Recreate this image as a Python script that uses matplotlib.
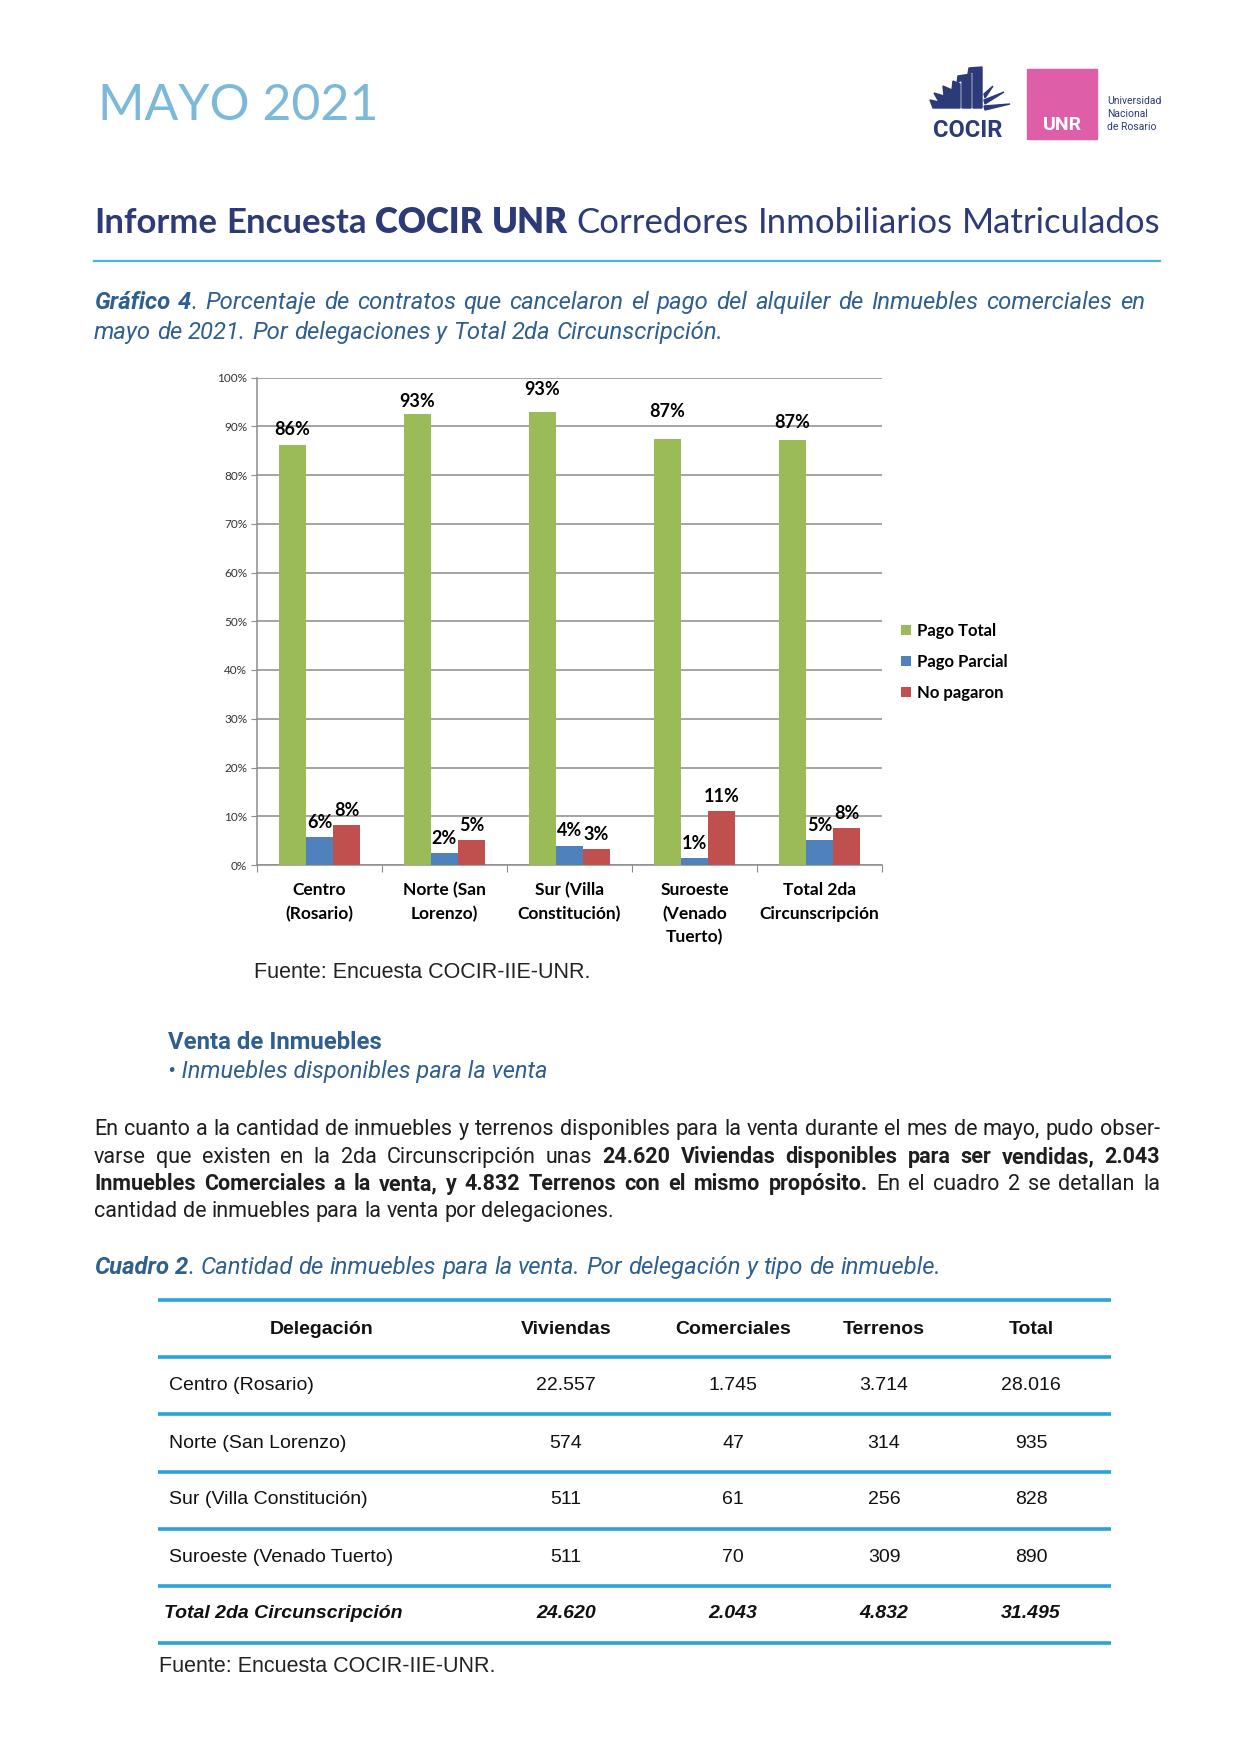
import matplotlib
matplotlib.use("Agg")
import matplotlib.pyplot as plt
from matplotlib.patches import Rectangle, Polygon
from matplotlib import font_manager as fm
import numpy as np

W, H = 1241, 1754

# --- datos del gráfico 4 ---
categories = ["Centro\n(Rosario)", "Norte (San\nLorenzo)", "Sur (Villa\nConstitución)",
              "Suroeste\n(Venado\nTuerto)", "Total 2da\nCircunscripción"]
pago_total = [86.1, 92.6, 93.0, 87.4, 87.2]
pago_parcial = [5.8, 2.4, 4.0, 1.4, 5.2]
no_pagaron = [8.2, 5.1, 3.2, 11.1, 7.6]
series_names = ["Pago Total", "Pago Parcial", "No pagaron"]
series_colors = ["#9bbb59", "#4f81bd", "#c0504d"]
y_ticks = [0, 10, 20, 30, 40, 50, 60, 70, 80, 90, 100]

# --- datos del cuadro 2 ---
table_header = ["Delegación", "Viviendas", "Comerciales", "Terrenos", "Total"]
delegaciones = ["Centro (Rosario)", "Norte (San Lorenzo)", "Sur (Villa Constitución)",
                "Suroeste (Venado Tuerto)", "Total 2da Circunscripción"]
viviendas = ["22.557", "574", "511", "511", "24.620"]
comerciales = ["1.745", "47", "61", "70", "2.043"]
terrenos = ["3.714", "314", "256", "309", "4.832"]
totales = ["28.016", "935", "828", "890", "31.495"]

NAVY = "#2c3a78"
STEEL = "#2f5f8f"
LIGHTBLUE = "#7cb9d8"
RULE = "#2aa4d8"


def has_font(name):
    try:
        fm.findfont(fm.FontProperties(family=name), fallback_to_default=False)
        return True
    except ValueError:
        return False


BODY = "Roboto" if has_font("Roboto") else "DejaVu Sans"
HEAD = "Lato" if has_font("Lato") else "DejaVu Sans"
ARIAL = "Liberation Sans" if has_font("Liberation Sans") else "DejaVu Sans"

fig = plt.figure(figsize=(W / 100, H / 100), dpi=100)
page = fig.add_axes([0, 0, 1, 1])
page.set_xlim(0, W)
page.set_ylim(H, 0)
page.axis("off")
renderer = fig.canvas.get_renderer()


def text_width(s, **kw):
    t = page.text(0, 0, s, **kw)
    w = t.get_window_extent(renderer).width
    t.remove()
    return w


def tokenize(runs):
    tokens = []
    pending = False
    for text, weight, style in runs:
        parts = text.split(" ")
        for i, p in enumerate(parts):
            if i > 0:
                pending = True
            if p:
                tokens.append((p, weight, style, pending and len(tokens) > 0))
                pending = False
    return tokens


def natural_width(runs, size, family=BODY):
    tokens = tokenize(runs)
    space = text_width("a a", fontsize=size, family=family) - text_width("aa", fontsize=size, family=family)
    w = sum(text_width(t[0], fontsize=size, fontweight=t[1], fontstyle=t[2], family=family) for t in tokens)
    return w + space * sum(1 for t in tokens if t[3])


def draw_line(x, y, runs, x_end=None, size=14, color="k", family=BODY):
    # runs: (texto, peso, estilo); x_end -> línea justificada
    tokens = tokenize(runs)
    kws = [dict(fontsize=size, fontweight=wt, fontstyle=st, family=family) for _, wt, st, _ in tokens]
    widths = [text_width(tok[0], **kw) for tok, kw in zip(tokens, kws)]
    space = text_width("a a", fontsize=size, family=family) - text_width("aa", fontsize=size, family=family)
    nsp = sum(1 for t in tokens if t[3])
    gap = space
    if x_end is not None and nsp > 0:
        gap = (x_end - x - sum(widths)) / nsp
    cx = x
    for tok, kw, w in zip(tokens, kws, widths):
        if tok[3]:
            cx += gap
        page.text(cx, y, tok[0], ha="left", va="baseline", color=color, **kw)
        cx += w


def fit_size(lines, target, size, family=BODY):
    # tamaño máximo para que ninguna línea pase del ancho
    best = size
    for runs in lines:
        best = min(best, size * target / natural_width(runs, size, family))
    return best


# --- encabezado ---
page.text(98, 120, "MAYO 2021", fontsize=36, fontweight="normal", family=HEAD,
          color=LIGHTBLUE, va="baseline")

# logo COCIR (aproximado)
page.add_patch(Polygon([(962, 108), (962, 80), (957, 83), (958, 76), (971, 74), (971, 108)],
                       closed=True, color=NAVY))
page.add_patch(Polygon([(973, 108), (973, 72), (968, 74), (969, 68), (982, 67), (982, 108)],
                       closed=True, color=NAVY))
page.add_patch(Polygon([(933, 108), (930, 100), (939, 102), (934, 93), (944, 96), (943, 86),
                        (952, 90), (953, 81), (960, 84), (960, 108)], closed=True, color=NAVY))
page.add_patch(Polygon([(984, 106), (1010, 104), (985, 110)], closed=True, color=NAVY))
page.add_patch(Polygon([(984, 100), (1004, 92), (985, 104)], closed=True, color=NAVY))
page.add_patch(Polygon([(984, 94), (993, 86), (985, 98)], closed=True, color=NAVY))
page.text(968, 137, "COCIR", fontsize=17, fontweight="bold", family=BODY, color=NAVY,
          ha="center", va="baseline")

# logo UNR
page.add_patch(Rectangle((1027, 69), 70, 70, color="#df5ea8"))
page.text(1062, 125, "UNR", fontsize=14, fontweight="bold", family=BODY, color="white",
          ha="center", va="center")
for yy, s in zip([101, 114, 127], ["Universidad", "Nacional", "de Rosario"]):
    page.text(1107, yy, s, fontsize=7.5, family=BODY, color=NAVY, va="center")

# título
title_runs = [("Informe Encuesta ", "bold", "normal"), ("COCIR UNR", "heavy", "normal"),
              ("  Corredores Inmobiliarios Matriculados", "normal", "normal")]
ts = fit_size([title_runs], 1066, 26, HEAD)
draw_line(94, 233, title_runs, size=ts, color=NAVY, family=HEAD)
page.plot([94, 1160], [261, 261], color="#4ab3d6", lw=1.6)

# leyenda del gráfico
cap1 = [("Gráfico 4", "bold", "italic"),
        (". Porcentaje de contratos que cancelaron el pago del alquiler de Inmuebles comerciales en",
         "normal", "italic")]
cs = fit_size([cap1], 1051, 17.2)
draw_line(94, 309, cap1, x_end=1145, size=cs, color=STEEL)
draw_line(94, 339, [("mayo de 2021. Por delegaciones y Total 2da Circunscripción.", "normal", "italic")],
          size=cs, color=STEEL)

# --- gráfico de barras ---
ax = fig.add_axes([257 / W, 1 - 865 / H, 625 / W, 487.5 / H])
x = np.arange(len(categories))
bw = 0.216
all_series = [pago_total, pago_parcial, no_pagaron]
label_offsets = [[11.5, 8.6, 15.8, 19.4, 12.2],
                 [10.5, 10.5, 10.5, 10.5, 10.5],
                 [10.5, 10.5, 10.5, 10.5, 10.5]]
for i, (vals, name, col) in enumerate(zip(all_series, series_names, series_colors)):
    pos = x + (i - 1) * bw
    ax.bar(pos, vals, bw, color=col, label=name, zorder=3)
    for px, v, off in zip(pos, vals, label_offsets[i]):
        ax.annotate(f"{v:.0f}%", (px, v), xytext=(0, off), textcoords="offset points",
                    ha="center", va="center", fontsize=13, fontweight="bold", family=HEAD)

ax.set_xlim(-0.5, len(categories) - 0.5)
ax.set_ylim(0, 100)
ax.set_yticks(y_ticks)
ax.set_yticklabels([f"{v}%" for v in y_ticks])
ax.yaxis.grid(True, color="#8c8c8c", lw=1.1, zorder=0)
ax.set_axisbelow(True)
for s in ["top", "right"]:
    ax.spines[s].set_visible(False)
for s in ["left", "bottom"]:
    ax.spines[s].set_color("#8c8c8c")
    ax.spines[s].set_linewidth(1.1)
ax.tick_params(axis="y", length=4, color="#8c8c8c", labelsize=8.5, labelcolor="#333333", pad=3)
for lab in ax.get_yticklabels():
    lab.set_family(HEAD)
ax.set_xticks(np.arange(-0.5, len(categories)))
ax.set_xticklabels([])
ax.tick_params(axis="x", which="major", length=5, color="#8c8c8c")
ax.set_xticks(x, minor=True)
ax.set_xticklabels(categories, minor=True, fontsize=12.5, fontweight="bold", family=HEAD,
                   linespacing=1.55, va="top")
ax.tick_params(axis="x", which="minor", length=0, pad=12.5)
ax.legend(loc="upper left", bbox_to_anchor=(1.03, 0.497), frameon=False,
          prop=dict(family=HEAD, weight="bold", size=12), handlelength=0.6, handleheight=0.6,
          handletextpad=0.4, labelspacing=0.9, borderaxespad=0, borderpad=0)

page.text(254, 978, "Fuente: Encuesta COCIR-IIE-UNR.", fontsize=15.5, family=ARIAL,
          color="#222222", va="baseline")

# --- venta de inmuebles ---
page.text(168, 1049, "Venta de Inmuebles", fontsize=17.2, fontweight="bold", family=BODY,
          color=STEEL, va="baseline")
page.text(168, 1078, "• Inmuebles disponibles para la venta", fontsize=17, fontstyle="italic",
          family=BODY, color=STEEL, va="baseline")

para = [
    [("En cuanto a la cantidad de inmuebles y terrenos disponibles para la venta durante el mes de mayo, pudo obser-", "normal", "normal")],
    [("varse que existen en la 2da Circunscripción unas ", "normal", "normal"),
     ("24.620 Viviendas disponibles para ser vendidas, 2.043", "bold", "normal")],
    [("Inmuebles Comerciales a la venta, y 4.832 Terrenos con el mismo propósito.", "bold", "normal"),
     (" En el cuadro 2 se detallan la", "normal", "normal")],
    [("cantidad de inmuebles para la venta por delegaciones.", "normal", "normal")],
]
ps = fit_size(para[:3], 1066, 15.5)
for k, (yb, runs) in enumerate(zip([1135, 1163, 1190, 1217], para)):
    draw_line(94, yb, runs, x_end=1160 if k < 3 else None, size=ps, color="#1e1e1e")

draw_line(94, 1274, [("Cuadro 2", "bold", "italic"),
                     (". Cantidad de inmuebles para la venta. Por delegación y tipo de inmueble.",
                      "normal", "italic")],
          size=cs, color=STEEL)

# --- cuadro 2 ---
for yy in [1300, 1357, 1414, 1472, 1529, 1586, 1643]:
    page.plot([158, 1111], [yy, yy], color=RULE, lw=2.6, solid_capstyle="butt")

col_x = [322, 566, 733, 884, 1031]
for cx, h in zip(col_x, table_header):
    page.text(cx, 1330, h, fontsize=14, fontweight="bold", family=ARIAL, ha="center", va="center",
              color="#111111")
row_y = [1386, 1443, 1500, 1557, 1614]
for r, yy in enumerate(row_y):
    last = r == len(row_y) - 1
    wt = "bold" if last else "normal"
    st = "italic" if last else "normal"
    page.text(164 if last else 169, yy, delegaciones[r], fontsize=14, fontweight=wt, fontstyle=st,
              family=ARIAL, ha="left", va="center", color="#111111")
    for cx, col in zip(col_x[1:], [viviendas, comerciales, terrenos, totales]):
        page.text(cx, yy, col[r], fontsize=14, fontweight=wt, fontstyle=st, family=ARIAL,
                  ha="center", va="center", color="#111111")

page.text(159, 1672, "Fuente: Encuesta COCIR-IIE-UNR.", fontsize=15.5, family=ARIAL,
          color="#222222", va="baseline")

fig.savefig("out.png", dpi=100)
